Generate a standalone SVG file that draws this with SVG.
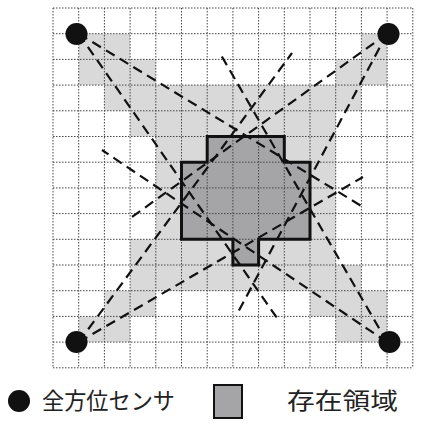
<svg xmlns="http://www.w3.org/2000/svg" width="421" height="424" viewBox="0 0 421 424">
<style>
.light{fill:#d9d9d9;stroke:none}
.region{fill:#a5a5a8}
.outline{fill:none;stroke:#111;stroke-width:3;stroke-linejoin:miter}
.grid{fill:none;stroke:#444;stroke-width:1;stroke-dasharray:1.5 1.5}
.dash{fill:none;stroke:#111;stroke-width:2.2;stroke-dasharray:10 6}
.sensor{fill:#111}
.lbl{font-family:"Liberation Serif","Noto Sans CJK JP",serif;font-size:23px;fill:#222}
</style>
<rect width="421" height="424" fill="#fff"/>
<g id="light-cells">
<path class="light" d="M78.7,33.7h51.4v25.7h-51.4z M361.4,33.7h25.7v25.7h-25.7z
M78.7,59.4h77.1v25.7h-77.1z M335.7,59.4h51.4v25.7h-51.4z
M104.4,85.1h257v25.7h-257z
M130.1,110.8h205.6v25.7h-205.6z
M155.8,136.5h179.9v102.8h-179.9z
M130.1,239.3h205.6v25.7h-205.6z
M130.1,265h231.3v25.7h-231.3z
M104.4,290.7h51.4v25.7h-51.4z M310,290.7h77.1v25.7h-77.1z
M78.7,316.4h51.4v25.7h-51.4z M335.7,316.4h51.4v25.7h-51.4z"/>
</g>
<g id="existence-region-fill">
<path class="region" d="M207.2,136.5H284.3V162.2H310V239.3H258.6V265H232.9V239.3H181.5V162.2H207.2Z"/>
</g>
<g id="grid">
<path class="grid" d="M53,8V367.8 M78.7,8V367.8 M104.4,8V367.8 M130.1,8V367.8 M155.8,8V367.8 M181.5,8V367.8 M207.2,8V367.8 M232.9,8V367.8 M258.6,8V367.8 M284.3,8V367.8 M310,8V367.8 M335.7,8V367.8 M361.4,8V367.8 M387.1,8V367.8 M412.8,8V367.8
M53,8H412.8 M53,33.7H412.8 M53,59.4H412.8 M53,85.1H412.8 M53,110.8H412.8 M53,136.5H412.8 M53,162.2H412.8 M53,187.9H412.8 M53,213.6H412.8 M53,239.3H412.8 M53,265H412.8 M53,290.7H412.8 M53,316.4H412.8 M53,342.1H412.8 M53,367.8H412.8"/>
</g>
<g id="existence-region">
<path class="outline" d="M207.2,136.5H284.3V162.2H310V239.3H258.6V265H232.9V239.3H181.5V162.2H207.2Z"/>
</g>
<g id="connectors">
<path class="dash" d="M78.7,33.7L363,207"/>
<path class="dash" d="M78.7,33.7L277,318"/>
<path class="dash" d="M387.1,33.7L130.5,218"/>
<path class="dash" d="M387.1,33.7L236,316"/>
<path class="dash" d="M78.7,342.1L363,177"/>
<path class="dash" d="M78.7,342.1L292,53"/>
<path class="dash" d="M387.1,342.1L102,150"/>
<path class="dash" d="M387.1,342.1L221,55"/>
</g>
<g id="sensor-tl"><circle class="sensor" cx="76.5" cy="34" r="11"/></g>
<g id="sensor-tr"><circle class="sensor" cx="388.5" cy="34" r="11"/></g>
<g id="sensor-bl"><circle class="sensor" cx="76.5" cy="342" r="11"/></g>
<g id="sensor-br"><circle class="sensor" cx="389.5" cy="342" r="11"/></g>
<g id="legend-sensor">
<circle class="sensor" cx="19" cy="401" r="11"/>
<text class="lbl" x="42" y="409" textLength="133" lengthAdjust="spacingAndGlyphs">全方位センサ</text>
</g>
<g id="legend-region">
<rect x="214" y="385" width="28" height="33" fill="#a5a5a8" stroke="#111" stroke-width="2"/>
<text class="lbl" x="287" y="409" textLength="111" lengthAdjust="spacingAndGlyphs">存在領域</text>
</g>
</svg>
